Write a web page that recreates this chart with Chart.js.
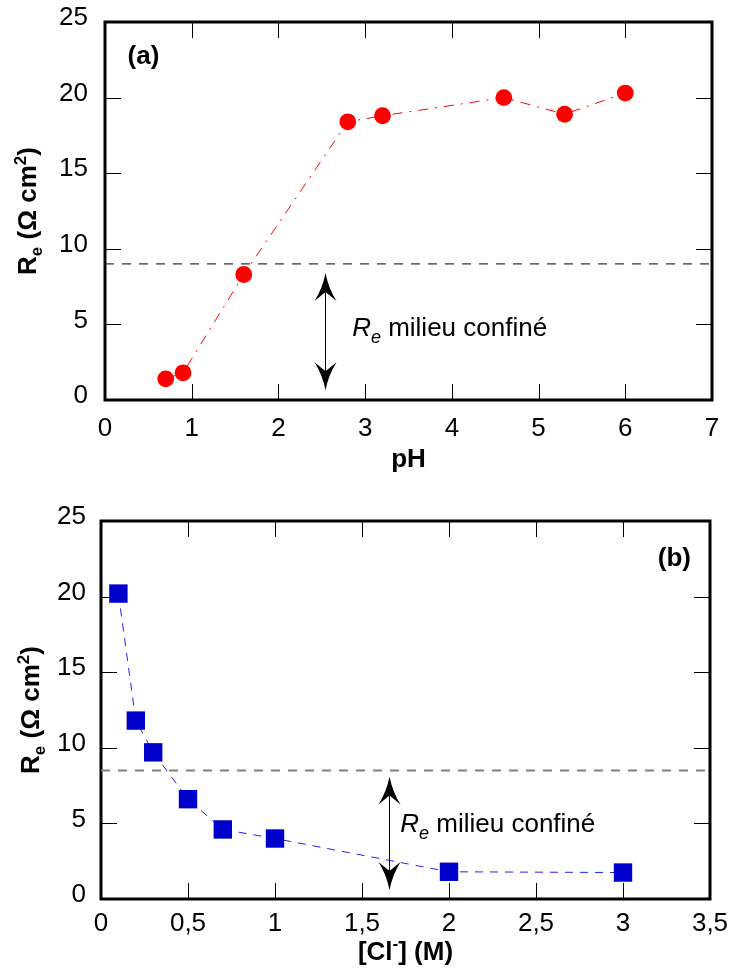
<!DOCTYPE html>
<html>
<head>
<meta charset="utf-8">
<script src="https://cdn.jsdelivr.net/npm/chart.js@4.4.1/dist/chart.umd.min.js"></script>
<style>
    body { margin: 0; background: #fff; }
    .panel { position: absolute; left: 0; width: 730px; height: 487px; }
</style>
</head>
<body>
<div class="panel" style="top:0"><canvas id="phChart" width="730" height="487"></canvas></div>
<div class="panel" style="top:487px"><canvas id="clChart" width="730" height="487"></canvas></div>
<script>
// Data (a) Re vs pH
const phValues = [0.7, 0.9, 1.6, 2.8, 3.2, 4.6, 5.3, 6.0];
const reByPh = [1.4, 1.8, 8.3, 18.4, 18.8, 20.0, 18.9, 20.3];
const phTicks = [0, 1, 2, 3, 4, 5, 6, 7];
const phTickLabels = ['0', '1', '2', '3', '4', '5', '6', '7'];
const confinedA = 9;

// Data (b) Re vs [Cl-]
const clValues = [0.1, 0.2, 0.3, 0.5, 0.7, 1.0, 2.0, 3.0];
const reByCl = [20.2, 11.8, 9.7, 6.6, 4.6, 4.0, 1.8, 1.75];
const clTicks = [0, 0.5, 1, 1.5, 2, 2.5, 3, 3.5];
const clTickLabels = ['0', '0,5', '1', '1,5', '2', '2,5', '3', '3,5'];
const confinedB = 8.5;

const reTicks = [0, 5, 10, 15, 20, 25];
const reTickLabels = ['0', '5', '10', '15', '20', '25'];

const FONT = '"Liberation Sans", Arial, sans-serif';
const f = (size, style) => (style ? style + ' ' : '') + size + 'px ' + FONT;

// draws text pieces one after another (sub/superscripts via dy)
function drawRich(ctx, parts, x, y, align) {
    let w = 0;
    parts.forEach(p => { ctx.font = p.font; w += ctx.measureText(p.text).width; });
    let cx = align === 'center' ? x - w / 2 : x;
    ctx.textAlign = 'left';
    ctx.textBaseline = 'alphabetic';
    parts.forEach(p => {
        ctx.font = p.font;
        ctx.fillText(p.text, cx, y + (p.dy || 0));
        cx += ctx.measureText(p.text).width;
    });
}

function arrowHead(ctx, x, yTip, dir) {
    const L = 28, W = 11, N = 19;
    ctx.beginPath();
    ctx.moveTo(x, yTip);
    ctx.quadraticCurveTo(x + 3, yTip + dir * L * 0.55, x + W, yTip + dir * L);
    ctx.lineTo(x, yTip + dir * N);
    ctx.lineTo(x - W, yTip + dir * L);
    ctx.quadraticCurveTo(x - 3, yTip + dir * L * 0.55, x, yTip);
    ctx.closePath();
    ctx.fill();
}

const yTitle = [
    { text: 'R', font: f(26, 'bold') },
    { text: 'e', font: f(17, 'bold'), dy: 6 },
    { text: ' (\u03A9 cm', font: f(26, 'bold') },
    { text: '2', font: f(17, 'bold'), dy: -10 },
    { text: ')', font: f(26, 'bold') }
];
const noteText = [
    { text: 'R', font: f(26, 'italic') },
    { text: 'e', font: f(18, 'italic'), dy: 7 },
    { text: ' milieu confin\u00e9', font: f(26) }
];

// frame, inward ticks, arrow and texts
const decor = {
    id: 'decor',
    beforeDatasetsDraw(chart, args, o) {
        const { ctx, chartArea: a, scales: { x, y } } = chart;
        ctx.save();
        ctx.strokeStyle = '#000';
        ctx.lineWidth = 1;
        ctx.beginPath();
        x.ticks.forEach(t => {
            const px = Math.round(x.getPixelForValue(t.value)) + 0.5;
            ctx.moveTo(px, a.bottom); ctx.lineTo(px, a.bottom - 16);
            ctx.moveTo(px, a.top); ctx.lineTo(px, a.top + 16);
        });
        y.ticks.forEach(t => {
            const py = Math.round(y.getPixelForValue(t.value)) + 0.5;
            ctx.moveTo(a.left, py); ctx.lineTo(a.left + 16, py);
            ctx.moveTo(a.right, py); ctx.lineTo(a.right - 16, py);
        });
        ctx.stroke();
        ctx.lineWidth = 3;
        ctx.strokeRect(a.left, a.top, a.width, a.height);
        ctx.restore();
    },
    afterDatasetsDraw(chart, args, o) {
        const { ctx, chartArea: a, scales: { x, y } } = chart;
        ctx.save();
        ctx.fillStyle = '#000';
        ctx.strokeStyle = '#000';

        // arrow
        const ax = Math.round(x.getPixelForValue(o.arrow.x)) + 0.5;
        const top = y.getPixelForValue(o.arrow.top);
        const bot = y.getPixelForValue(o.arrow.bottom);
        ctx.lineWidth = 1;
        ctx.beginPath();
        ctx.moveTo(ax, top + 10); ctx.lineTo(ax, bot - 10);
        ctx.stroke();
        arrowHead(ctx, ax, top, 1);
        arrowHead(ctx, ax, bot, -1);

        drawRich(ctx, noteText, x.getPixelForValue(o.note.x), y.getPixelForValue(o.note.y), 'left');
        drawRich(ctx, [{ text: o.panel.text, font: f(26, 'bold') }],
            x.getPixelForValue(o.panel.x), y.getPixelForValue(o.panel.y), 'left');

        // axis titles
        drawRich(ctx, o.xTitle, (a.left + a.right) / 2, o.xTitleY, 'center');
        ctx.translate(o.yTitleX, (a.top + a.bottom) / 2);
        ctx.rotate(-Math.PI / 2);
        drawRich(ctx, yTitle, 0, 9, 'center');
        ctx.restore();
    }
};

function buildChart(id, c) {
    return new Chart(document.getElementById(id), {
        type: 'scatter',
        data: {
            datasets: [
                {
                    data: c.xs.map((v, i) => ({ x: v, y: c.ys[i] })),
                    showLine: true,
                    borderColor: c.lineColor,
                    borderWidth: 1,
                    borderDash: c.lineDash,
                    pointStyle: c.pointStyle,
                    pointRadius: c.pointRadius,
                    pointBackgroundColor: c.pointColor,
                    pointBorderWidth: 0,
                    order: 1
                },
                {
                    data: [{ x: c.xTicks[0], y: c.ref }, { x: c.xTicks[c.xTicks.length - 1], y: c.ref }],
                    showLine: true,
                    pointRadius: 0,
                    borderColor: c.refColor,
                    borderWidth: c.refWidth,
                    borderDash: [9, 8],
                    order: 2
                }
            ]
        },
        options: {
            responsive: false,
            animation: false,
            events: [],
            layout: { padding: c.padding },
            plugins: { legend: { display: false }, tooltip: { enabled: false }, decor: c.decor },
            scales: {
                x: {
                    type: 'linear',
                    min: c.xTicks[0],
                    max: c.xTicks[c.xTicks.length - 1],
                    afterBuildTicks: s => { s.ticks = c.xTicks.map(v => ({ value: v })); },
                    afterFit: s => { s.height = c.xAxisHeight; s.paddingLeft = 0; s.paddingRight = 0; },
                    grid: { display: false, drawTicks: false },
                    border: { display: false },
                    ticks: {
                        callback: (v, i) => c.xLabels[i],
                        color: '#000',
                        font: { family: FONT, size: 26 },
                        padding: c.xPad,
                        maxRotation: 0
                    }
                },
                y: {
                    min: 0,
                    max: 25,
                    afterBuildTicks: s => { s.ticks = reTicks.map(v => ({ value: v })); },
                    afterFit: s => { s.width = c.yAxisWidth; s.paddingTop = 0; s.paddingBottom = 0; },
                    grid: { display: false, drawTicks: false },
                    border: { display: false },
                    ticks: {
                        callback: (v, i) => reTickLabels[i],
                        color: '#000',
                        font: { family: FONT, size: 26 },
                        padding: c.yPad,
                        labelOffset: -4
                    }
                }
            }
        },
        plugins: [decor]
    });
}

// Chart (a)
buildChart('phChart', {
    xs: phValues, ys: reByPh,
    xTicks: phTicks, xLabels: phTickLabels,
    ref: confinedA, refColor: '#000', refWidth: 1,
    lineColor: '#ff0000', lineDash: [10, 7, 2, 7],
    pointStyle: 'circle', pointRadius: 8.4, pointColor: '#ff0000',
    padding: { top: 22, right: 18, left: 0, bottom: 0 },
    xAxisHeight: 87, yAxisWidth: 105, xPad: 13, yPad: 17,
    decor: {
        arrow: { x: 2.54, top: 8.4, bottom: 0.65 },
        note: { x: 2.85, y: 4.23 },
        panel: { text: '(a)', x: 0.26, y: 22.2 },
        xTitle: [{ text: 'pH', font: f(26, 'bold') }],
        xTitleY: 467,
        yTitleX: 27
    }
});

// Chart (b)
buildChart('clChart', {
    xs: clValues, ys: reByCl,
    xTicks: clTicks, xLabels: clTickLabels,
    ref: confinedB, refColor: '#808080', refWidth: 2,
    lineColor: '#2222ee', lineDash: [8, 7],
    pointStyle: 'rect', pointRadius: 13, pointColor: '#0000cc',
    padding: { top: 34, right: 20, left: 0, bottom: 0 },
    xAxisHeight: 75, yAxisWidth: 101, xPad: 9, yPad: 15,
    decor: {
        arrow: { x: 1.655, top: 8.1, bottom: 0.6 },
        note: { x: 1.72, y: 4.45 },
        panel: { text: '(b)', x: 3.2, y: 22.0 },
        xTitle: [
            { text: '[Cl', font: f(26, 'bold') },
            { text: '-', font: f(17, 'bold'), dy: -11 },
            { text: '] (M)', font: f(26, 'bold') }
        ],
        xTitleY: 473,
        yTitleX: 30
    }
});
</script>
</body>
</html>
